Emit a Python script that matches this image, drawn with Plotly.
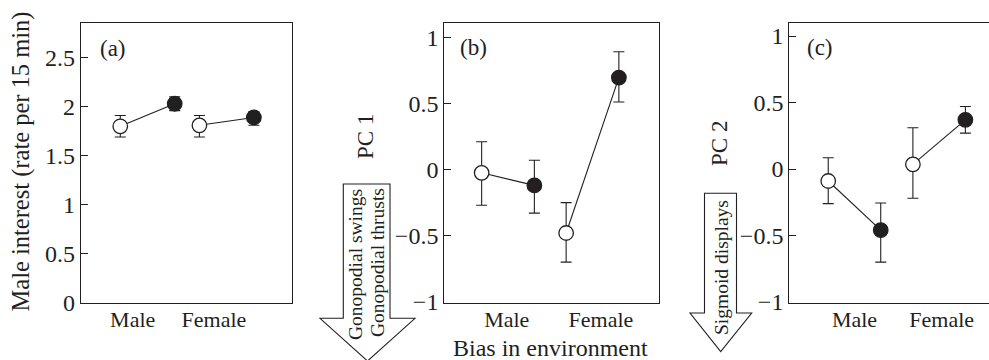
import plotly.graph_objects as go

W, H = 989, 360

# ---------------- data ----------------
groups = ["Male", "Female"]

# panel (a): male interest (rate per 15 min)
a_open_mean = [1.80, 1.81]
a_open_hi = [1.91, 1.91]
a_open_lo = [1.69, 1.69]
a_fill_mean = [2.03, 1.89]
a_fill_hi = [2.10, 1.95]
a_fill_lo = [1.96, 1.81]

# panel (b): PC 1
b_open_mean = [-0.025, -0.48]
b_open_hi = [0.21, -0.25]
b_open_lo = [-0.27, -0.70]
b_fill_mean = [-0.12, 0.695]
b_fill_hi = [0.07, 0.89]
b_fill_lo = [-0.33, 0.51]

# panel (c): PC 2
c_open_mean = [-0.09, 0.035]
c_open_hi = [0.085, 0.31]
c_open_lo = [-0.26, -0.22]
c_fill_mean = [-0.46, 0.37]
c_fill_hi = [-0.256, 0.47]
c_fill_lo = [-0.70, 0.27]

a_ticks = [0, 0.5, 1, 1.5, 2, 2.5]
a_ticktext = ["0", "0.5", "1", "1.5", "2", "2.5"]
pc_ticks = [-1, -0.5, 0, 0.5, 1]
pc_ticktext = ["\u22121", "\u22120.5", "0", "0.5", "1"]

# ---------------- style / layout ----------------
FONT = "Liberation Serif"
INK = "#231f20"
YTICK_SIZE = 24
XTICK_SIZE = 22


def px(x, y):
    return x / W, 1 - y / H


panels = [
    dict(name="a", xd=(81, 291.7), xr=(0.160, 2.822), yr=(0, 2.857), dodge=0.344,
         tickx=[0.813, 1.84], ticks=a_ticks, ticktext=a_ticktext, mirror_y=True,
         data=(a_open_mean, a_open_hi, a_open_lo, a_fill_mean, a_fill_hi, a_fill_lo)),
    dict(name="b", xd=(444.3, 659), xr=(0.246, 2.787), yr=(-1.007, 1.11), dodge=0.312,
         tickx=[0.985, 2.10], ticks=pc_ticks, ticktext=pc_ticktext, mirror_y=True,
         data=(b_open_mean, b_open_hi, b_open_lo, b_fill_mean, b_fill_hi, b_fill_lo)),
    dict(name="c", xd=(789.3, 989), xr=(0.230, 2.589), yr=(-1.005, 1.10), dodge=0.31,
         tickx=[1.0, 2.03], ticks=pc_ticks, ticktext=pc_ticktext, mirror_y=False,
         data=(c_open_mean, c_open_hi, c_open_lo, c_fill_mean, c_fill_hi, c_fill_lo)),
]

ydom = (1 - 302.7 / H, 1 - 22.7 / H)

fig = go.Figure()
layout = dict(
    width=W, height=H,
    margin=dict(l=0, r=0, t=0, b=0, autoexpand=False),
    paper_bgcolor="white", plot_bgcolor="white",
    showlegend=False,
    font=dict(family=FONT, size=22, color=INK),
)

for i, p in enumerate(panels):
    sfx = "" if i == 0 else str(i + 1)
    xa, ya = "x" + sfx, "y" + sfx
    om, ohi, olo, fm, fhi, flo = p["data"]
    d = p["dodge"]
    for g in range(len(groups)):
        gx = g + 1
        xs = [gx - d, gx + d]
        ys = [om[g], fm[g]]
        # connecting line
        fig.add_trace(go.Scatter(
            x=xs, y=ys, xaxis=xa, yaxis=ya, mode="lines",
            line=dict(color=INK, width=1.1), hoverinfo="skip"))
        # open marker
        fig.add_trace(go.Scatter(
            x=[xs[0]], y=[om[g]], xaxis=xa, yaxis=ya, mode="markers",
            marker=dict(size=14.5, color="white", line=dict(color=INK, width=1.3)),
            error_y=dict(type="data", symmetric=False,
                         array=[ohi[g] - om[g]], arrayminus=[om[g] - olo[g]],
                         color=INK, thickness=1.1, width=5.5)))
        # filled marker
        fig.add_trace(go.Scatter(
            x=[xs[1]], y=[fm[g]], xaxis=xa, yaxis=ya, mode="markers",
            marker=dict(size=14.5, color=INK, line=dict(color=INK, width=1.3)),
            error_y=dict(type="data", symmetric=False,
                         array=[fhi[g] - fm[g]], arrayminus=[fm[g] - flo[g]],
                         color=INK, thickness=1.1, width=5.5)))

    layout["xaxis" + sfx] = dict(
        domain=[p["xd"][0] / W, p["xd"][1] / W], range=list(p["xr"]),
        anchor=ya, showgrid=False, zeroline=False,
        showline=True, linecolor=INK, linewidth=1.2, mirror=True,
        ticks="", tickmode="array", tickvals=p["tickx"], ticktext=groups,
        ticklabelstandoff=-3,
        tickfont=dict(family=FONT, size=XTICK_SIZE, color=INK), fixedrange=True,
    )
    layout["yaxis" + sfx] = dict(
        domain=list(ydom), range=list(p["yr"]), anchor=xa,
        showgrid=False, zeroline=False,
        showline=True, linecolor=INK, linewidth=1.2, mirror=p["mirror_y"],
        ticks="inside", ticklen=7, tickwidth=1.1, tickcolor=INK,
        tickmode="array", tickvals=p["ticks"], ticktext=p["ticktext"],
        tickfont=dict(family=FONT, size=YTICK_SIZE, color=INK), fixedrange=True,
    )

annotations = []


def ann(text, x, y, size=22, angle=0, xanchor="center", yanchor="middle"):
    xx, yy = px(x, y)
    annotations.append(dict(
        text=text, x=xx, y=yy, xref="paper", yref="paper", showarrow=False,
        textangle=angle, xanchor=xanchor, yanchor=yanchor,
        font=dict(family=FONT, size=size, color=INK)))


ann("(a)", 98, 49, size=23, xanchor="left")
ann("(b)", 458, 48, size=23, xanchor="left")
ann("(c)", 805, 48, size=23, xanchor="left")
ann("Male interest (rate per 15 min)", 20, 161.5, size=24.5, angle=-90)
ann("PC 1", 365, 137, size=23, angle=-90)
ann("PC 2", 719, 144, size=23, angle=-90)
ann("Bias in environment", 550, 348, size=24)
ann("Gonopodial swings", 355, 265, size=19.5, angle=-90)
ann("Gonopodial thrusts", 377, 263, size=19.5, angle=-90)
ann("Sigmoid displays", 721, 268, size=19.5, angle=-90)

layout["annotations"] = annotations


def arrow_path(L, R, T, Hh, WL, WR, tx, ty):
    pts = [(L, T), (R, T), (R, Hh), (WR, Hh), (tx, ty), (WL, Hh), (L, Hh)]
    s = ""
    for k, (x, y) in enumerate(pts):
        xx, yy = px(x, y)
        s += ("M" if k == 0 else "L") + f"{xx:.5f},{yy:.5f} "
    return s + "Z"


layout["shapes"] = [
    dict(type="path", xref="paper", yref="paper",
         path=arrow_path(343.3, 390, 184, 318.3, 320, 415, 367.5, 361),
         line=dict(color=INK, width=1.1), fillcolor="rgba(0,0,0,0)", layer="below"),
    dict(type="path", xref="paper", yref="paper",
         path=arrow_path(704.5, 736.5, 193.3, 313, 690, 751.7, 720.7, 351.7),
         line=dict(color=INK, width=1.1), fillcolor="rgba(0,0,0,0)", layer="below"),
]

fig.update_layout(**layout)
fig.write_html("out.html", config={"displayModeBar": False})
